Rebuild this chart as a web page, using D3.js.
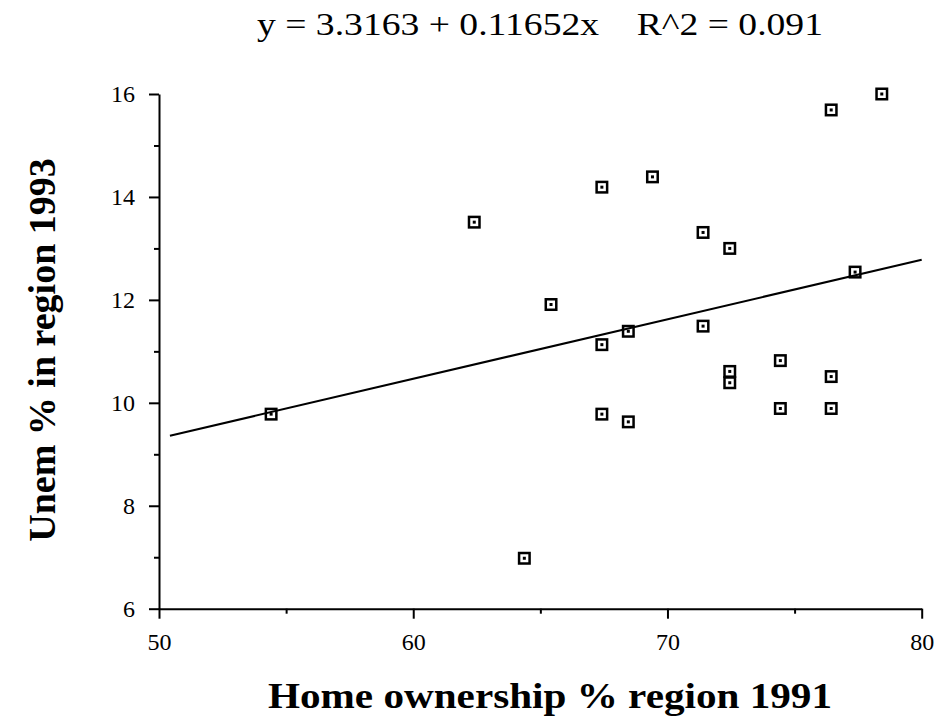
<!DOCTYPE html>
<html>
<head>
<meta charset="utf-8">
<script src="https://cdn.jsdelivr.net/npm/d3@7"></script>
<style>
    body { margin: 0; background: #fff; }
    svg text { font-family: "Liberation Serif", "Times New Roman", serif; fill: #000; }
    .axis path, .axis line { stroke: #000; stroke-width: 2px; }
    .axis text { font-size: 24px; }
</style>
</head>
<body>
<svg id="chart" width="935" height="719"></svg>
<script>
// data
var homeOwn = [78.43, 76.44, 69.41, 67.42, 71.40, 72.45, 77.38, 65.42, 68.46, 71.40, 67.42,
    74.44, 72.45, 72.45, 76.44, 74.44, 76.44, 67.42, 68.46, 54.41, 64.37, 62.40];
var unem = [16.0, 15.69, 14.39, 14.19, 13.31, 13.0, 12.54, 11.91, 11.39, 11.49, 11.13,
    10.82, 10.61, 10.39, 10.51, 9.89, 9.89, 9.78, 9.63, 9.78, 6.98, 13.51];

// fitted line as drawn (ends)
var fitX = [50.43, 80.0];
var fitY = [9.36, 12.78];

var xMajor = [50, 60, 70, 80];
var xMinor = [55, 65, 75];
var yMajor = [6, 8, 10, 12, 14, 16];
var yMinor = [7, 9, 11, 13, 15];

var titleText = "y = 3.3163 + 0.11652x    R^2 = 0.091";
var xTitle = "Home ownership % region 1991";
var yTitle = "Unem % in region 1993";

var svg = d3.select("#chart");

var x = d3.scaleLinear().domain([50, 80]).range([159, 921.7]);
var y = d3.scaleLinear().domain([6, 16]).range([608.7, 94]);

// minor ticks first
svg.append("g")
    .attr("class", "axis")
    .attr("transform", "translate(0," + y(6) + ")")
    .call(d3.axisBottom(x).tickValues(xMinor).tickSize(5).tickFormat(""))
    .select(".domain").remove();

svg.append("g")
    .attr("class", "axis")
    .attr("transform", "translate(" + x(50) + ",0)")
    .call(d3.axisLeft(y).tickValues(yMinor).tickSize(5).tickFormat(""))
    .select(".domain").remove();

svg.append("g")
    .attr("class", "axis")
    .attr("transform", "translate(0," + y(6) + ")")
    .call(d3.axisBottom(x).tickValues(xMajor).tickSize(10).tickSizeOuter(0).tickPadding(14).tickFormat(d3.format("d")));

svg.append("g")
    .attr("class", "axis")
    .attr("transform", "translate(" + x(50) + ",0)")
    .call(d3.axisLeft(y).tickValues(yMajor).tickSize(10).tickSizeOuter(0).tickPadding(14).tickFormat(d3.format("d")));

// points
var pts = svg.selectAll(".pt")
    .data(homeOwn.map(function (d, i) { return {x: d, y: unem[i]}; }))
    .enter().append("g")
    .classed("pt", true)
    .attr("transform", function (d) {
        return "translate(" + x(d.x) + "," + y(d.y) + ")";
    });

pts.append("rect")
    .attr("x", -5.25).attr("y", -5.25)
    .attr("width", 10.5).attr("height", 10.5)
    .attr("fill", "none")
    .attr("stroke", "#000")
    .attr("stroke-width", 2.5);

pts.append("rect")
    .attr("x", -1.5).attr("y", -1.5)
    .attr("width", 3).attr("height", 3)
    .attr("fill", "#000");

// regression line
svg.append("line")
    .attr("x1", x(fitX[0])).attr("y1", y(fitY[0]))
    .attr("x2", x(fitX[1])).attr("y2", y(fitY[1]))
    .attr("stroke", "#000")
    .attr("stroke-width", 2);

// titles (the reference type is a little wide, so stretch to length)
svg.append("text")
    .attr("x", 257).attr("y", 35)
    .attr("textLength", 566)
    .attr("lengthAdjust", "spacingAndGlyphs")
    .style("font-size", "31px")
    .style("white-space", "pre")
    .text(titleText);

svg.append("text")
    .attr("x", 268).attr("y", 708)
    .attr("textLength", 564)
    .attr("lengthAdjust", "spacingAndGlyphs")
    .style("font-size", "36px")
    .style("font-weight", "bold")
    .text(xTitle);

svg.append("text")
    .attr("transform", "translate(55,350) rotate(-90)")
    .attr("text-anchor", "middle")
    .style("font-size", "38px")
    .style("font-weight", "bold")
    .text(yTitle);
</script>
</body>
</html>
